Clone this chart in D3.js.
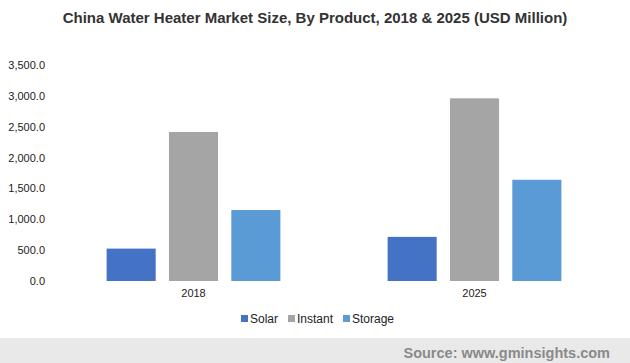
<!DOCTYPE html>
<html>
  <head>
    <meta charset="utf-8" />
    <script src="https://d3js.org/d3.v7.min.js"></script>
    <title>China Water Heater Market</title>
    <style>
        body { margin: 0; background: #fff; }
        svg { display: block; font-family: "Liberation Sans", Arial, sans-serif; }
    </style>
  </head>
  <body>

    <svg id="chart" width="630" height="363"></svg>

    <script>
        // data
        var years = ["2018", "2025"];
        var products = ["Solar", "Instant", "Storage"];
        var solar = [525, 715];
        var instant = [2415, 2960];
        var storage = [1150, 1640];
        var yTicks = [0, 500, 1000, 1500, 2000, 2500, 3000, 3500];

        var colors = ["#4472c4", "#a5a5a5", "#5b9bd5"];
        var seriesValues = [solar, instant, storage];

        var svg = d3.select("#chart");

        // title
        svg.append("text")
            .attr("x", 315)
            .attr("y", 23)
            .attr("text-anchor", "middle")
            .style("font-size", "15px")
            .style("font-weight", "bold")
            .style("fill", "#333")
            .text("China Water Heater Market Size, By Product, 2018 & 2025 (USD Million)");

        var y = d3.scaleLinear().domain([0, 3500]).range([281, 65]);

        var x0 = d3.scaleBand().domain(years).range([53, 615]).paddingOuter(0).paddingInner(0);
        var x1 = d3.scaleBand().domain(products).range([0, x0.bandwidth()]).paddingInner(0.213).paddingOuter(0.86);

        // y axis, no line, only labels
        var yAxis = d3.axisLeft(y).tickValues(yTicks).tickSize(0).tickPadding(0)
            .tickFormat(d3.format(",.1f"));
        var yg = svg.append("g").attr("transform", "translate(45,0)").call(yAxis);
        yg.select(".domain").remove();
        yg.selectAll("text").style("font-size", "11px").style("fill", "#222")
            .style("font-family", "'Liberation Sans', Arial, sans-serif");

        // bars
        var groups = svg.selectAll("g.year")
            .data(years)
            .enter().append("g")
            .attr("class", "year")
            .attr("transform", function(d){ return "translate(" + x0(d) + ",0)"; });

        groups.selectAll("rect")
            .data(function(d, i){
                return products.map(function(p, j){ return {product: p, value: seriesValues[j][i], color: colors[j]}; });
            })
            .enter().append("rect")
            .attr("x", function(d){ return x1(d.product); })
            .attr("width", x1.bandwidth())
            .attr("y", function(d){ return y(d.value); })
            .attr("height", function(d){ return y(0) - y(d.value); })
            .attr("fill", function(d){ return d.color; });

        // x axis labels
        var xAxis = d3.axisBottom(x0).tickSize(0).tickPadding(8);
        var xg = svg.append("g").attr("transform", "translate(0,281)").call(xAxis);
        xg.select(".domain").remove();
        xg.selectAll("text").style("font-size", "11px").style("fill", "#222")
            .style("font-family", "'Liberation Sans', Arial, sans-serif");

        // legend
        var legendX = [241, 288, 343];
        var legend = svg.selectAll("g.legend")
            .data(products)
            .enter().append("g")
            .attr("class", "legend")
            .attr("transform", function(d, i){ return "translate(" + legendX[i] + ",315)"; });
        legend.append("rect").attr("width", 7).attr("height", 7).attr("y", 0)
            .attr("fill", function(d, i){ return colors[i]; });
        legend.append("text").attr("x", 9).attr("y", 8)
            .style("font-size", "12px").style("fill", "#222")
            .text(function(d){ return d; });

        // footer
        svg.append("rect").attr("x", 0).attr("y", 338).attr("width", 630).attr("height", 25).attr("fill", "#e9e9e9");
        svg.append("text")
            .attr("x", 610)
            .attr("y", 358)
            .attr("text-anchor", "end")
            .style("font-size", "14.5px")
            .style("font-weight", "bold")
            .style("fill", "#8a8a8a")
            .text("Source: www.gminsights.com");
    </script>

  </body>
</html>
